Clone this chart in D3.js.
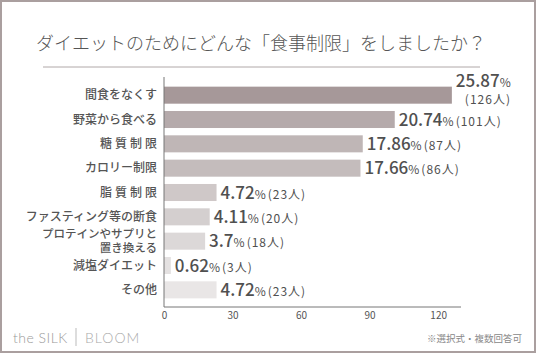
<!DOCTYPE html>
<html>
<head>
<meta charset="utf-8">
<script src="https://cdn.jsdelivr.net/npm/d3@7"></script>
<style>
  body { margin: 0; background: #fff; }
  text { font-family: "Noto Sans CJK JP", "Noto Sans", sans-serif; }
</style>
</head>
<body>
<div id="container"></div>
<script>
let categories = ['間食をなくす', '野菜から食べる', '糖質制限', 'カロリー制限', '脂質制限',
    'ファスティング等の断食', 'プロテインやサプリと\n置き換える', '減塩ダイエット', 'その他'],
  counts = [126, 101, 87, 86, 23, 20, 18, 3, 23],
  percents = ['25.87', '20.74', '17.86', '17.66', '4.72', '4.11', '3.7', '0.62', '4.72'],
  ticks = [0, 30, 60, 90, 120],
  colors = ['#a69899', '#b5aaab', '#bfb6b6', '#c4bcbc', '#cfc8c8', '#d4cfcf', '#dcd8d8', '#e4e1e1', '#e9e6e6'],
  width = 536,
  height = 353;

let svg = d3.select('#container')
  .append('svg')
  .attr('width', width)
  .attr('height', height)

// 外枠
svg.append('rect')
  .attr('x', 1).attr('y', 1)
  .attr('width', width - 2).attr('height', height - 2)
  .attr('fill', '#fff')
  .attr('stroke', '#aa9f9f')
  .attr('stroke-width', 2)

// タイトル
svg.append('text')
  .attr('x', 261).attr('y', 50)
  .attr('text-anchor', 'middle')
  .style('font-size', '18px')
  .style('font-weight', 300)
  .style('fill', '#555')
  .text('ダイエットのためにどんな「食事制限」をしましたか？')

svg.append('line')
  .attr('x1', 43).attr('x2', 480)
  .attr('y1', 67).attr('y2', 67)
  .attr('stroke', '#b0a8a8')

// 比例尺
let x = d3.scaleLinear()
  .domain([0, 130])
  .range([164, 461])

let y = d3.scaleBand()
  .domain(categories)
  .range([83, 302])
  .paddingInner(0.3)
  .paddingOuter(0.15)

let bar = svg.selectAll('g.bar')
  .data(categories).enter().append('g')
  .attr('class', 'bar')

bar.append('rect')
  .attr('x', x(0))
  .attr('y', d => y(d))
  .attr('width', (d, i) => x(counts[i]) - x(0))
  .attr('height', y.bandwidth())
  .attr('fill', (d, i) => colors[i])

// 値ラベル
bar.each(function (d, i) {
  let g = d3.select(this),
    cy = y(d) + y.bandwidth() / 2,
    lx = x(counts[i]) + 4
  let t = g.append('text').attr('x', lx).attr('y', i === 0 ? cy - 8 : cy + 6).style('fill', '#505050')
  t.append('tspan').text(percents[i]).style('font-size', '17px').style('font-weight', 500)
  t.append('tspan').text('%').style('font-size', '12px')
  let c = i === 0
    ? g.append('text').attr('x', lx + 9).attr('y', cy + 9)
    : t.append('tspan').attr('dx', 2)
  c.style('font-size', '12px').style('fill', '#505050')
    .style('letter-spacing', '1px')
    .text('(' + counts[i] + '人)')
})

// カテゴリーラベル
bar.append('text')
  .attr('text-anchor', 'end')
  .style('font-size', '12px')
  .style('font-weight', 500)
  .style('fill', '#555')
  .style('letter-spacing', d => d.length === 4 ? '3px' : '0px')
  .each(function (d) {
    let lines = d.split('\n'),
      cy = y(d) + y.bandwidth() / 2,
      t = d3.select(this)
    lines.forEach((l, k) => {
      t.append('tspan')
        .attr('x', d.length === 4 ? 160 : 157)
        .attr('y', cy + 4 + (k - (lines.length - 1) / 2) * 13.5)
        .style('font-size', lines.length > 1 ? '11.5px' : null)
        .text(l)
    })
  })

// 坐标轴
let x_axis = d3.axisBottom(x).tickValues(ticks).tickSize(0).tickPadding(5)

let gx = svg.append('g')
  .attr('transform', 'translate(0,307)')
  .call(x_axis)
gx.select('.domain').attr('stroke', '#777').attr('d', 'M164,0H461')
gx.selectAll('text').style('font-size', '10px').style('fill', '#555')
  .style('font-family', '"Noto Sans CJK JP", sans-serif')

svg.append('line')
  .attr('x1', 164).attr('x2', 164)
  .attr('y1', 77).attr('y2', 307)
  .attr('stroke', '#777')

// フッター
svg.append('text')
  .attr('x', 13).attr('y', 343)
  .style('font-family', 'Lato, sans-serif')
  .style('font-size', '14px')
  .style('font-weight', 300)
  .style('fill', '#999')
  .style('letter-spacing', '0.5px')
  .text('the SILK')

svg.append('line')
  .attr('x1', 76).attr('x2', 76)
  .attr('y1', 328).attr('y2', 346)
  .attr('stroke', '#bbb')

svg.append('text')
  .attr('x', 85).attr('y', 343)
  .style('font-family', 'Lato, sans-serif')
  .style('font-size', '14px')
  .style('font-weight', 300)
  .style('fill', '#aaa')
  .style('letter-spacing', '1px')
  .text('BLOOM')

svg.append('text')
  .attr('x', 522).attr('y', 342)
  .attr('text-anchor', 'end')
  .style('font-size', '9.5px')
  .style('fill', '#888')
  .text('※選択式・複数回答可')
</script>
</body>
</html>
